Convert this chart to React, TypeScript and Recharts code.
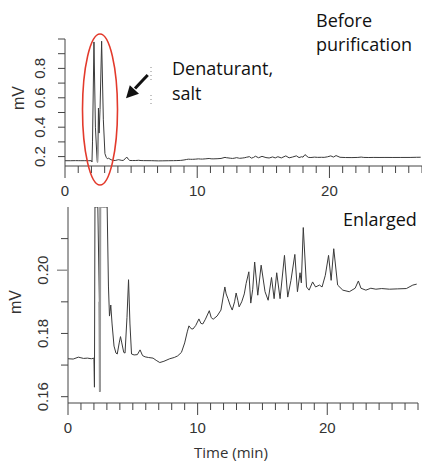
import React from 'react';
import { LineChart, Line, XAxis, YAxis } from 'recharts';

// chromatogram (time in min, signal in mV)
const timeMin = [
  0, 0.4, 0.8, 1.0, 1.2, 1.5, 1.8, 2.0, 2.04, 2.08, 2.19, 2.3, 2.42, 2.46, 2.49, 2.53, 2.58, 2.65, 2.77, 2.9,
  3.02, 3.12, 3.2, 3.25, 3.3, 3.4, 3.55, 3.7, 3.8, 3.95, 4.05, 4.15, 4.3, 4.4, 4.55, 4.67, 4.78, 4.9, 5.1, 5.35,
  5.56, 5.75, 5.95, 6.2, 6.56, 6.8, 7.08, 7.4, 7.85, 8.2, 8.46, 8.75, 9.0, 9.2, 9.33, 9.5, 9.64, 9.85, 10.1, 10.25,
  10.4, 10.6, 10.9, 11.05, 11.2, 11.5, 11.8, 12.1, 12.2, 12.33, 12.5, 12.67, 12.85, 12.97, 13.1, 13.2, 13.4, 13.6, 13.74, 13.95,
  14.1, 14.25, 14.4, 14.64, 14.9, 15.2, 15.44, 15.7, 15.9, 16.1, 16.36, 16.7, 16.95, 17.2, 17.5, 17.7, 17.9, 18.0, 18.15, 18.4,
  18.6, 18.87, 19.1, 19.4, 19.6, 19.85, 20.1, 20.3, 20.5, 20.8, 21.2, 21.7, 22.15, 22.4, 22.6, 22.98, 23.36, 23.75, 24.2, 24.8,
  25.4, 26.1, 26.6, 26.9,
];
const signalMv = [
  0.172, 0.1719, 0.1725, 0.1723, 0.1721, 0.1722, 0.172, 0.1722, 0.163, 0.3, 0.98, 0.4, 0.19, 0.1616, 0.25, 0.53, 0.36, 0.52, 0.985, 0.45,
  0.22, 0.195, 0.1855, 0.187, 0.189, 0.183, 0.176, 0.1738, 0.1735, 0.177, 0.179, 0.177, 0.174, 0.1738, 0.185, 0.197, 0.183, 0.1735, 0.1732, 0.1733,
  0.1748, 0.173, 0.1726, 0.1724, 0.1722, 0.1715, 0.1708, 0.1712, 0.172, 0.1724, 0.1729, 0.174, 0.177, 0.1805, 0.1824, 0.1815, 0.1814, 0.1825, 0.1846, 0.1832,
  0.183, 0.1845, 0.1872, 0.185, 0.1845, 0.1855, 0.1874, 0.1947, 0.1925, 0.1911, 0.189, 0.1874, 0.19, 0.1928, 0.1905, 0.1884, 0.19, 0.1925, 0.1958, 0.1995,
  0.1896, 0.194, 0.2026, 0.1921, 0.2016, 0.1932, 0.1905, 0.1977, 0.191, 0.1992, 0.191, 0.2047, 0.1915, 0.1968, 0.205, 0.1932, 0.1992, 0.196, 0.2135, 0.1947,
  0.1937, 0.1963, 0.1947, 0.1953, 0.1947, 0.1984, 0.2047, 0.1968, 0.2068, 0.1953, 0.1937, 0.1932, 0.1943, 0.1966, 0.1943, 0.1937, 0.1943, 0.194, 0.1942, 0.194,
  0.1941, 0.1942, 0.1953, 0.1956,
];

const xTicks = [0, 1, 2, 3, 4, 5, 6, 7, 8, 9, 10, 11, 12, 13, 14, 15, 16, 17, 18, 19, 20, 21, 22, 23, 24, 25, 26, 27];
const xLabels = [0, 10, 20];
const topYTicks = [0.2, 0.3, 0.4, 0.5, 0.6, 0.7, 0.8, 0.9, 1.0];
const topYLabels = ['0.2', '0.4', '0.6', '0.8'];
const lowYTicks = [0.16, 0.17, 0.18, 0.19, 0.2, 0.21];
const lowYLabels = ['0.16', '0.18', '0.20'];

const TOP_DOMAIN = [0.136, 1.0];
const LOW_DOMAIN = [0.158, 0.22];

const tickFont = "'Liberation Sans Narrow', 'Liberation Sans', Arial, sans-serif";
const textFont = "'Open Sans', 'Noto Sans', sans-serif";
const ink = '#333';

// gray segment around the dip between the two big peaks
const inDip = (t: number) => t >= 2.42 && t <= 2.49;

const topData = timeMin.map((t, i) => ({ t, v: signalMv[i], g: inDip(t) ? signalMv[i] : null }));
const lowData = timeMin.map((t, i) => {
  const v = Math.min(signalMv[i], LOW_DOMAIN[1]);
  return { t, v, g: inDip(t) ? v : null };
});

const XTick = (props: any) => {
  const { x, y, payload } = props;
  const major = xLabels.includes(payload.value);
  return (
    <g>
      <line x1={x} y1={y} x2={x} y2={y + (major ? 12 : 7)} stroke="#444" strokeWidth={1} />
      {major && (
        <text x={x} y={y + 30} textAnchor="middle" fontSize={15} fontFamily={tickFont} fill={ink}>
          {payload.value}
        </text>
      )}
    </g>
  );
};

const makeYTick = (labels: string[], digits: number, longTick?: string) => (props: any) => {
  const { x, y, payload } = props;
  const key = payload.value.toFixed(digits);
  const show = labels.includes(key);
  const isLong = key === longTick;
  return (
    <g>
      <line x1={x - (isLong ? 11 : 7)} y1={y} x2={x} y2={y} stroke={isLong ? '#999' : '#444'} strokeWidth={isLong ? 1.5 : 1} />
      {show && (
        <text
          x={x - 25}
          y={y}
          transform={`rotate(-90 ${x - 25} ${y})`}
          textAnchor="middle"
          dominantBaseline="central"
          fontSize={15}
          fontFamily={tickFont}
          fill={ink}
        >
          {key}
        </text>
      )}
    </g>
  );
};

const TopYTick = makeYTick(topYLabels, 1);
const LowYTick = makeYTick(lowYLabels, 2, '0.20');

export default function App() {
  return (
    <div style={{ position: 'absolute', left: 0, top: 0, width: 422, height: 461, background: '#fff', overflow: 'hidden' }}>
      <div style={{ position: 'absolute', left: 0, top: 0 }}>
        <LineChart width={422} height={200} data={topData} margin={{ top: 39, right: 0, left: 20, bottom: 4 }}>
          <XAxis
            dataKey="t"
            type="number"
            domain={[0, 27]}
            ticks={xTicks}
            interval={0}
            tickSize={0}
            tickMargin={0}
            tickLine={false}
            tick={XTick}
            height={30}
            axisLine={{ stroke: '#444' }}
          />
          <YAxis
            type="number"
            domain={TOP_DOMAIN}
            ticks={topYTicks}
            interval={0}
            tickSize={0}
            tickMargin={0}
            tickLine={false}
            tick={TopYTick}
            width={45}
            allowDataOverflow
            axisLine={{ stroke: '#444' }}
          />
          <Line dataKey="v" type="linear" stroke="#3a3a3a" strokeWidth={1} dot={false} activeDot={false} isAnimationActive={false} />
          <Line dataKey="g" type="linear" stroke="#9a9a9a" strokeWidth={1.5} dot={false} activeDot={false} isAnimationActive={false} />
        </LineChart>
      </div>

      <div style={{ position: 'absolute', left: 0, top: 190 }}>
        <LineChart width={422} height={271} data={lowData} margin={{ top: 17, right: 4, left: 23, bottom: 28 }}>
          <XAxis
            dataKey="t"
            type="number"
            domain={[0, 27]}
            ticks={xTicks}
            interval={0}
            tickSize={0}
            tickMargin={0}
            tickLine={false}
            tick={XTick}
            height={30}
            axisLine={{ stroke: '#444' }}
          />
          <YAxis
            type="number"
            domain={LOW_DOMAIN}
            ticks={lowYTicks}
            interval={0}
            tickSize={0}
            tickMargin={0}
            tickLine={false}
            tick={LowYTick}
            width={45}
            allowDataOverflow
            axisLine={{ stroke: '#444' }}
          />
          <Line dataKey="v" type="linear" stroke="#3a3a3a" strokeWidth={1} dot={false} activeDot={false} isAnimationActive={false} />
          <Line dataKey="g" type="linear" stroke="#9a9a9a" strokeWidth={2} dot={false} activeDot={false} isAnimationActive={false} />
        </LineChart>
      </div>

      {/* annotations */}
      <svg width={422} height={461} style={{ position: 'absolute', left: 0, top: 0, pointerEvents: 'none' }}>
        <ellipse cx={100} cy={109.5} rx={17.5} ry={75.5} fill="none" stroke="#e33a2c" strokeWidth={1.6} />
        <line x1={147.7} y1={75} x2={135} y2={88.6} stroke="#111" strokeWidth={3} />
        <polygon points="126,98.3 139,93.8 129.8,85.2" fill="#111" />
        <line x1={151} y1={67} x2={151} y2={81} stroke="#888" strokeWidth={1} strokeDasharray="1 3" />
        <line x1={151} y1={95} x2={151} y2={104} stroke="#888" strokeWidth={1} strokeDasharray="1 3" />

        <text x={172} y={75} fontSize={18} fontFamily={textFont} fill="#111">Denaturant,</text>
        <text x={172} y={100} fontSize={18} fontFamily={textFont} fill="#111">salt</text>
        <text x={316} y={27} fontSize={18} fontFamily={textFont} fill="#111">Before</text>
        <text x={316} y={51} fontSize={18} fontFamily={textFont} fill="#111">purification</text>
        <text x={343} y={226} fontSize={18} fontFamily={textFont} fill="#111">Enlarged</text>
        <text x={231} y={458} textAnchor="middle" fontSize={15} fontFamily={textFont} fill={ink}>Time (min)</text>

        <text x={18} y={98} transform="rotate(-90 18 98)" textAnchor="middle" dominantBaseline="central" fontSize={16} fontFamily={tickFont} fill={ink}>mV</text>
        <text x={15} y={302} transform="rotate(-90 15 302)" textAnchor="middle" dominantBaseline="central" fontSize={16} fontFamily={tickFont} fill={ink}>mV</text>
      </svg>
    </div>
  );
}
